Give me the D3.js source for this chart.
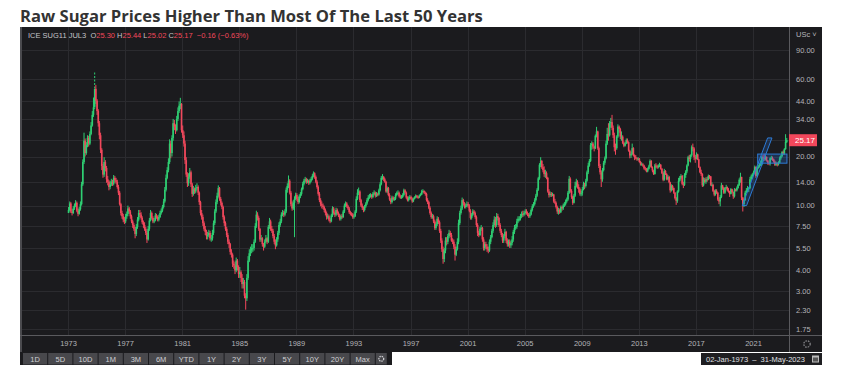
<!DOCTYPE html>
<html><head><meta charset="utf-8">
<script src="https://cdn.jsdelivr.net/npm/d3@7"></script>
<style>
body{margin:0;background:#fff;}
svg{display:block;}
</style>
</head><body>
<svg id="c" width="847" height="382"></svg>
<script>
// ---------------- DATA ----------------
const title = "Raw Sugar Prices Higher Than Most Of The Last 50 Years";
const startYear = 1973;
// monthly closes (US cents / lb), Jan 1973 .. May 2023
const closes = [
/*1973*/ 9.4, 10.3, 9.2, 9.0, 9.6, 10.0, 10.4, 9.3, 8.9, 9.5, 10.2, 13.5,
/*1974*/ 18.5, 25.0, 21.0, 23.5, 26.0, 24.0, 27.5, 31.0, 36.0, 40.0, 52.0, 44.0,
/*1975*/ 38, 32, 27, 22, 17.5, 15.5, 18.5, 17.0, 14.5, 14.0, 13.0, 13.5,
/*1976*/ 14.0, 13.6, 14.8, 14.3, 14.0, 13.0, 12.0, 10.2, 9.0, 8.6, 8.2, 8.0,
/*1977*/ 8.6, 8.9, 9.6, 9.2, 8.6, 8.0, 7.6, 7.2, 6.7, 7.4, 8.2, 9.0,
/*1978*/ 8.8, 8.4, 7.9, 7.6, 7.2, 6.8, 6.2, 7.2, 8.1, 9.0, 8.4, 8.0,
/*1979*/ 8.1, 8.7, 8.5, 8.2, 8.5, 9.0, 9.3, 9.8, 10.6, 12.5, 14.8, 16.5,
/*1980*/ 18.5, 24.0, 21.0, 26.0, 32.0, 30.5, 29.0, 34.0, 38.0, 41.0, 42.0, 29.0,
/*1981*/ 27.0, 24.0, 19.0, 15.5, 13.7, 15.0, 16.0, 13.5, 11.8, 12.6, 12.2, 12.8,
/*1982*/ 13.0, 12.0, 10.5, 9.0, 8.5, 7.8, 7.2, 6.9, 6.5, 6.6, 6.8, 6.3,
/*1983*/ 6.3, 6.8, 7.8, 9.2, 10.5, 11.5, 12.8, 11.0, 10.4, 9.8, 8.5, 7.8,
/*1984*/ 7.2, 6.6, 6.0, 5.8, 5.2, 5.0, 4.4, 4.3, 4.0, 4.6, 4.2, 3.8,
/*1985*/ 3.9, 3.6, 3.3, 3.4, 2.8, 2.7, 3.6, 4.6, 5.1, 5.3, 5.5, 5.5,
/*1986*/ 6.0, 7.5, 8.8, 8.4, 7.2, 6.2, 6.3, 5.8, 5.6, 6.0, 6.3, 6.0,
/*1987*/ 7.4, 8.0, 7.2, 7.0, 6.5, 6.0, 5.7, 6.2, 6.8, 7.6, 8.0, 8.8,
/*1988*/ 9.0, 8.8, 9.2, 12.5, 13.2, 14.2, 12.0, 10.2, 9.6, 10.4, 11.0, 11.6,
/*1989*/ 11.0, 10.5, 11.4, 11.8, 12.6, 13.6, 14.2, 14.5, 14.0, 14.2, 13.8, 14.2,
/*1990*/ 14.6, 15.2, 15.8, 15.0, 14.0, 13.0, 11.8, 10.8, 10.2, 10.0, 9.8, 9.4,
/*1991*/ 9.0, 8.5, 8.6, 8.2, 8.0, 8.7, 9.6, 9.0, 8.8, 9.4, 9.0, 8.7,
/*1992*/ 8.3, 8.6, 8.5, 9.2, 10.0, 10.3, 9.9, 9.6, 9.1, 8.9, 8.8, 8.5,
/*1993*/ 8.6, 9.2, 11.0, 12.0, 12.2, 10.8, 10.0, 9.7, 9.4, 9.9, 10.3, 10.8,
/*1994*/ 11.2, 11.4, 11.6, 11.3, 11.8, 12.0, 11.5, 11.8, 11.7, 12.4, 13.5, 14.8,
/*1995*/ 15.0, 14.5, 14.0, 12.2, 12.8, 11.6, 10.9, 10.5, 11.2, 10.9, 11.0, 11.6,
/*1996*/ 11.9, 12.0, 11.4, 11.2, 11.3, 11.6, 12.4, 12.0, 11.2, 10.8, 11.1, 11.3,
/*1997*/ 11.0, 10.6, 11.0, 11.2, 11.5, 11.3, 11.2, 11.5, 11.7, 12.2, 12.3, 12.0,
/*1998*/ 11.8, 10.8, 10.5, 9.7, 9.0, 8.5, 8.6, 8.0, 7.3, 7.7, 8.3, 7.9,
/*1999*/ 7.0, 6.1, 5.4, 4.7, 5.3, 6.1, 6.0, 6.5, 6.8, 6.6, 6.1, 6.0,
/*2000*/ 5.6, 5.0, 5.4, 6.0, 7.8, 9.0, 9.6, 10.8, 10.3, 9.8, 10.0, 10.2,
/*2001*/ 10.0, 9.3, 8.4, 8.8, 9.2, 9.0, 8.5, 7.6, 6.8, 6.6, 7.2, 7.3,
/*2002*/ 6.2, 5.5, 5.8, 5.6, 5.4, 5.3, 6.0, 6.4, 7.0, 7.6, 8.2, 7.6,
/*2003*/ 8.6, 8.4, 7.6, 7.0, 6.6, 6.1, 6.5, 6.9, 6.1, 5.8, 6.0, 5.7,
/*2004*/ 5.9, 6.2, 6.9, 7.3, 7.4, 8.0, 8.3, 8.3, 8.6, 8.9, 8.8, 9.0,
/*2005*/ 9.2, 9.0, 8.8, 8.6, 8.8, 9.4, 9.9, 10.2, 10.8, 11.5, 12.5, 14.7,
/*2006*/ 17.8, 18.8, 17.2, 16.5, 15.6, 15.8, 14.8, 12.2, 11.6, 11.8, 11.6, 11.7,
/*2007*/ 10.6, 10.4, 9.8, 9.2, 9.4, 9.1, 9.8, 9.6, 10.0, 10.2, 10.6, 10.9,
/*2008*/ 12.0, 14.6, 12.3, 11.3, 10.4, 11.5, 13.2, 14.0, 13.0, 12.6, 11.8, 11.9,
/*2009*/ 12.6, 13.4, 13.2, 14.2, 16.0, 17.6, 18.8, 23.5, 24.0, 23.0, 22.4, 26.8,
/*2010*/ 28.5, 22.5, 17.5, 16.0, 14.5, 16.5, 18.3, 19.5, 24.0, 27.5, 27.0, 32.0,
/*2011*/ 32.5, 30.0, 27.0, 22.8, 22.5, 26.5, 30.5, 29.5, 26.5, 26.5, 24.2, 23.3,
/*2012*/ 24.0, 25.2, 24.5, 21.7, 20.3, 20.7, 22.5, 20.3, 19.8, 19.5, 19.3, 19.4,
/*2013*/ 18.5, 17.9, 17.9, 17.6, 16.9, 16.8, 16.2, 16.8, 17.4, 18.8, 17.2, 16.4,
/*2014*/ 15.6, 17.6, 17.4, 17.2, 17.5, 17.8, 16.8, 15.8, 14.4, 16.3, 15.6, 14.5,
/*2015*/ 15.0, 13.9, 12.4, 13.2, 12.8, 12.0, 11.1, 10.7, 12.2, 14.2, 14.8, 15.2,
/*2016*/ 13.6, 13.4, 15.4, 16.2, 17.6, 19.8, 19.3, 20.3, 22.8, 22.4, 19.8, 19.4,
/*2017*/ 20.6, 19.2, 17.2, 16.0, 15.6, 13.3, 14.4, 14.0, 14.5, 14.4, 15.2, 15.1,
/*2018*/ 13.4, 13.4, 12.3, 11.7, 12.3, 12.0, 10.9, 10.6, 11.3, 13.3, 12.8, 12.0,
/*2019*/ 12.8, 13.0, 12.4, 12.3, 11.8, 12.6, 12.1, 11.4, 12.5, 12.4, 12.8, 13.4,
/*2020*/ 14.4, 15.0, 11.2, 10.2, 10.8, 12.0, 12.4, 12.8, 12.8, 14.5, 15.1, 15.5,
/*2021*/ 16.0, 17.2, 15.2, 17.0, 17.4, 17.9, 17.9, 19.8, 19.6, 19.3, 19.9, 18.9,
/*2022*/ 18.3, 18.1, 19.5, 19.6, 19.2, 18.6, 17.8, 18.2, 17.9, 18.3, 19.5, 20.1,
/*2023*/ 21.3, 20.9, 22.2, 24.6, 25.17
];
// monthly highs
const highs = [
/*1973*/ 9.8, 10.6, 10.5, 9.5, 9.9, 10.3, 10.8, 10.6, 9.6, 9.8, 10.6, 14.0,
/*1974*/ 19.2, 28.0, 25.8, 24.5, 27.0, 26.8, 28.5, 32.5, 38.0, 46.0, 65.5, 55.0,
/*1975*/ 45.0, 39.0, 33.0, 28.0, 22.5, 18.0, 19.8, 19.0, 17.5, 15.2, 14.3, 14.2,
/*1976*/ 14.6, 14.4, 15.4, 15.2, 14.8, 14.4, 13.4, 12.3, 10.4, 9.3, 8.9, 8.5,
/*1977*/ 8.9, 9.2, 10.0, 9.8, 9.4, 8.8, 8.2, 7.8, 7.4, 7.7, 8.5, 9.4,
/*1978*/ 9.4, 9.1, 8.6, 8.1, 7.9, 7.4, 7.0, 7.5, 8.4, 9.4, 9.2, 8.6,
/*1979*/ 8.4, 9.0, 8.9, 8.7, 8.8, 9.3, 9.6, 10.1, 11.0, 13.0, 15.5, 17.2,
/*1980*/ 19.5, 25.5, 25.0, 27.0, 34.0, 33.5, 31.5, 35.5, 40.0, 43.5, 45.8, 42.5,
/*1981*/ 31.0, 28.5, 25.0, 19.8, 16.0, 15.8, 17.0, 16.4, 13.8, 13.2, 12.9, 13.4,
/*1982*/ 13.7, 13.3, 12.2, 10.7, 9.4, 8.8, 8.0, 7.5, 7.1, 6.9, 7.1, 7.0,
/*1983*/ 6.6, 7.1, 8.1, 9.5, 10.9, 12.0, 13.3, 13.0, 11.3, 10.6, 10.0, 8.7,
/*1984*/ 8.0, 7.4, 6.8, 6.2, 5.9, 5.4, 5.1, 4.6, 4.5, 4.8, 4.7, 4.3,
/*1985*/ 4.2, 4.0, 3.8, 3.6, 3.5, 2.9, 3.8, 4.9, 5.4, 5.6, 5.8, 5.8,
/*1986*/ 6.2, 7.8, 9.3, 9.1, 8.6, 7.3, 6.6, 6.4, 5.9, 6.2, 6.6, 6.4,
/*1987*/ 7.6, 8.4, 8.2, 7.5, 7.2, 6.7, 6.2, 6.4, 7.0, 7.9, 8.3, 9.1,
/*1988*/ 9.4, 9.3, 9.5, 12.9, 13.7, 15.3, 14.5, 12.3, 10.6, 10.8, 11.4, 12.0,
/*1989*/ 11.9, 11.3, 11.7, 12.1, 12.9, 14.0, 14.6, 15.0, 14.8, 14.6, 14.4, 14.6,
/*1990*/ 15.0, 15.6, 16.2, 16.0, 15.3, 14.3, 13.3, 12.1, 11.1, 10.6, 10.3, 10.0,
/*1991*/ 9.6, 9.2, 8.9, 8.8, 8.4, 8.9, 9.9, 9.8, 9.2, 9.7, 9.6, 9.2,
/*1992*/ 8.9, 8.8, 8.9, 9.4, 10.3, 10.6, 10.5, 10.1, 9.8, 9.3, 9.1, 9.0,
/*1993*/ 8.9, 9.4, 11.4, 12.6, 12.9, 12.4, 11.0, 10.3, 9.9, 10.1, 10.5, 11.1,
/*1994*/ 11.6, 11.8, 11.9, 11.8, 12.1, 12.4, 12.2, 12.1, 12.0, 12.7, 13.9, 15.2,
/*1995*/ 15.6, 15.2, 14.8, 14.2, 13.1, 13.0, 11.9, 11.1, 11.5, 11.4, 11.3, 11.9,
/*1996*/ 12.2, 12.4, 12.2, 11.7, 11.6, 11.9, 12.7, 12.6, 12.2, 11.4, 11.4, 11.6,
/*1997*/ 11.5, 11.2, 11.2, 11.4, 11.7, 11.6, 11.5, 11.7, 11.9, 12.5, 12.6, 12.4,
/*1998*/ 12.2, 12.0, 11.1, 10.7, 9.9, 9.2, 8.9, 8.8, 8.2, 7.9, 8.6, 8.5,
/*1999*/ 8.1, 7.2, 6.3, 5.6, 5.5, 6.4, 6.4, 6.7, 7.1, 7.0, 6.8, 6.3,
/*2000*/ 6.2, 5.8, 5.6, 6.3, 8.2, 9.3, 10.0, 11.2, 11.0, 10.5, 10.3, 10.6,
/*2001*/ 10.5, 10.2, 9.5, 9.0, 9.5, 9.4, 9.2, 8.7, 7.8, 7.0, 7.4, 7.6,
/*2002*/ 7.4, 6.4, 6.0, 6.0, 5.8, 5.6, 6.2, 6.6, 7.2, 7.9, 8.6, 8.5,
/*2003*/ 9.0, 8.9, 8.5, 7.8, 7.2, 6.8, 6.7, 7.2, 7.0, 6.3, 6.2, 6.2,
/*2004*/ 6.1, 6.5, 7.1, 7.6, 7.7, 8.3, 8.6, 8.6, 8.9, 9.2, 9.3, 9.3,
/*2005*/ 9.5, 9.5, 9.2, 9.0, 9.1, 9.6, 10.2, 10.5, 11.1, 11.8, 12.8, 15.0,
/*2006*/ 18.2, 19.8, 19.0, 18.0, 17.4, 16.6, 16.2, 15.0, 12.6, 12.2, 12.1, 12.0,
/*2007*/ 11.8, 11.0, 10.6, 10.0, 9.7, 9.6, 10.0, 10.0, 10.3, 10.5, 10.9, 11.2,
/*2008*/ 12.3, 15.2, 14.9, 12.6, 11.5, 11.8, 14.0, 14.6, 14.3, 13.5, 12.9, 12.3,
/*2009*/ 13.0, 14.0, 13.8, 14.6, 16.4, 18.3, 19.3, 24.2, 24.8, 24.5, 23.3, 27.3,
/*2010*/ 30.4, 28.8, 23.0, 18.0, 16.4, 17.0, 18.8, 20.0, 25.0, 30.0, 32.0, 33.0,
/*2011*/ 34.5, 36.0, 31.0, 28.0, 24.0, 27.0, 31.5, 31.0, 30.0, 28.5, 27.0, 24.8,
/*2012*/ 24.5, 25.8, 25.8, 24.8, 22.0, 21.4, 24.0, 22.8, 20.6, 20.4, 19.8, 19.8,
/*2013*/ 19.6, 18.8, 18.4, 18.2, 17.8, 17.3, 17.0, 17.1, 17.8, 19.2, 19.0, 17.4,
/*2014*/ 16.6, 18.0, 18.2, 17.8, 17.9, 18.3, 18.0, 17.0, 16.0, 16.8, 16.5, 15.8,
/*2015*/ 15.4, 15.2, 14.0, 13.5, 13.4, 12.9, 12.1, 11.3, 12.4, 14.8, 15.2, 15.6,
/*2016*/ 15.4, 14.0, 15.8, 16.5, 17.9, 20.2, 20.5, 20.6, 23.4, 24.0, 22.8, 20.4,
/*2017*/ 21.2, 20.8, 19.4, 17.4, 16.6, 15.8, 14.9, 14.8, 14.9, 15.0, 15.5, 15.4,
/*2018*/ 15.2, 13.9, 13.6, 12.5, 12.6, 12.6, 12.1, 11.2, 11.6, 13.8, 13.4, 13.0,
/*2019*/ 13.0, 13.4, 13.1, 12.8, 12.3, 12.8, 12.7, 12.2, 12.8, 12.7, 13.1, 13.6,
/*2020*/ 14.7, 15.9, 15.0, 11.3, 11.0, 12.3, 12.8, 13.2, 13.0, 15.0, 15.5, 15.8,
/*2021*/ 16.4, 17.6, 17.4, 17.3, 17.8, 18.2, 18.9, 20.2, 20.4, 20.8, 20.3, 20.0,
/*2022*/ 19.0, 18.6, 19.8, 20.2, 20.0, 19.4, 18.9, 18.6, 18.4, 18.7, 20.0, 20.4,
/*2023*/ 21.6, 21.8, 22.5, 27.4, 26.0
];
// monthly lows
const lows = [
/*1973*/ 9.0, 9.2, 9.0, 8.7, 8.9, 9.4, 9.8, 9.1, 8.6, 8.8, 9.3, 10.0,
/*1974*/ 13.2, 18.0, 20.0, 20.5, 22.8, 23.0, 23.5, 27.0, 30.5, 35.0, 39.0, 42.0,
/*1975*/ 36.0, 30.5, 25.5, 21.0, 16.5, 14.8, 15.0, 16.2, 13.8, 13.3, 12.4, 12.6,
/*1976*/ 13.2, 13.2, 13.3, 13.8, 13.6, 12.7, 11.6, 10.0, 8.7, 8.3, 7.9, 7.7,
/*1977*/ 7.8, 8.3, 8.6, 8.9, 8.3, 7.8, 7.3, 7.0, 6.3, 6.5, 7.2, 8.0,
/*1978*/ 8.5, 8.2, 7.7, 7.3, 7.0, 6.6, 5.9, 6.1, 7.0, 8.0, 8.2, 7.8,
/*1979*/ 7.8, 8.0, 8.3, 8.0, 8.0, 8.4, 8.8, 9.1, 9.6, 10.4, 12.2, 14.5,
/*1980*/ 16.0, 18.0, 19.5, 20.0, 25.0, 29.0, 27.5, 28.5, 33.0, 37.0, 39.0, 28.0,
/*1981*/ 26.0, 23.0, 18.0, 15.0, 13.0, 13.2, 14.6, 13.0, 11.3, 11.5, 11.8, 11.9,
/*1982*/ 12.5, 11.6, 10.1, 8.7, 8.2, 7.5, 7.0, 6.6, 6.2, 6.2, 6.4, 6.1,
/*1983*/ 6.0, 6.1, 6.6, 7.6, 9.0, 10.2, 11.2, 10.7, 10.0, 9.5, 8.2, 7.5,
/*1984*/ 7.0, 6.4, 5.8, 5.5, 5.0, 4.8, 4.2, 4.1, 3.8, 3.9, 4.0, 3.6,
/*1985*/ 3.6, 3.4, 3.1, 3.1, 2.7, 2.3, 2.6, 3.5, 4.5, 4.9, 5.1, 5.2,
/*1986*/ 5.3, 5.9, 7.3, 8.1, 7.0, 6.0, 6.0, 5.6, 5.3, 5.5, 5.9, 5.8,
/*1987*/ 5.9, 7.2, 7.0, 6.8, 6.3, 5.8, 5.4, 5.6, 6.0, 6.6, 7.4, 7.8,
/*1988*/ 8.6, 8.5, 8.6, 9.0, 12.0, 12.8, 11.7, 9.9, 9.3, 9.4, 6.4, 10.8,
/*1989*/ 10.7, 10.2, 10.3, 11.1, 11.5, 12.4, 13.3, 13.8, 13.6, 13.7, 13.4, 13.5,
/*1990*/ 13.9, 14.3, 14.9, 14.6, 13.7, 12.7, 11.5, 10.5, 9.9, 9.6, 9.5, 9.1,
/*1991*/ 8.7, 8.2, 8.3, 8.0, 7.8, 7.9, 8.5, 8.8, 8.5, 8.6, 8.8, 8.5,
/*1992*/ 8.1, 8.1, 8.3, 8.4, 9.0, 9.8, 9.7, 9.4, 8.9, 8.7, 8.6, 8.3,
/*1993*/ 8.3, 8.5, 9.0, 10.8, 11.6, 10.5, 9.8, 9.4, 9.1, 9.2, 9.7, 10.1,
/*1994*/ 10.6, 11.0, 11.2, 11.0, 11.1, 11.6, 11.2, 11.3, 11.4, 11.5, 12.2, 13.3,
/*1995*/ 14.4, 14.1, 13.8, 12.0, 11.9, 11.4, 10.7, 10.2, 10.3, 10.7, 10.7, 10.8,
/*1996*/ 11.4, 11.7, 11.2, 11.0, 11.0, 11.1, 11.4, 11.8, 11.0, 10.6, 10.6, 10.9,
/*1997*/ 10.8, 10.4, 10.5, 10.9, 11.1, 11.1, 11.0, 11.1, 11.4, 11.6, 12.0, 11.8,
/*1998*/ 11.5, 10.6, 10.2, 9.5, 8.8, 8.3, 8.3, 7.8, 7.1, 7.1, 7.5, 7.7,
/*1999*/ 6.8, 5.9, 5.2, 4.4, 4.5, 5.1, 5.7, 5.8, 6.3, 6.4, 6.0, 5.8,
/*2000*/ 5.4, 4.6, 4.9, 5.3, 5.8, 7.6, 8.8, 9.4, 10.0, 9.6, 9.6, 9.8,
/*2001*/ 9.7, 9.1, 8.2, 8.2, 8.6, 8.8, 8.3, 7.4, 6.5, 6.4, 6.5, 7.0,
/*2002*/ 6.0, 5.3, 5.3, 5.4, 5.2, 5.1, 5.2, 5.8, 6.3, 6.8, 7.4, 7.3,
/*2003*/ 7.4, 8.1, 7.4, 6.8, 6.4, 5.9, 5.9, 6.3, 5.9, 5.6, 5.6, 5.5,
/*2004*/ 5.5, 5.7, 6.0, 6.7, 7.1, 7.2, 7.8, 8.0, 8.1, 8.4, 8.5, 8.6,
/*2005*/ 8.8, 8.8, 8.6, 8.4, 8.4, 8.7, 9.2, 9.7, 10.0, 10.6, 11.3, 12.3,
/*2006*/ 14.4, 17.2, 16.8, 16.0, 15.0, 14.8, 14.5, 12.0, 11.2, 11.3, 11.3, 11.4,
/*2007*/ 10.4, 10.2, 9.6, 8.9, 8.8, 8.9, 9.0, 9.3, 9.4, 9.8, 10.0, 10.4,
/*2008*/ 10.7, 11.8, 12.0, 11.0, 10.1, 10.3, 11.3, 12.9, 12.7, 12.0, 11.5, 11.4,
/*2009*/ 11.5, 12.4, 12.6, 12.9, 14.0, 15.6, 17.3, 18.5, 22.0, 22.3, 21.5, 22.2,
/*2010*/ 26.2, 22.0, 17.0, 15.5, 13.0, 14.0, 16.2, 17.8, 19.2, 23.5, 25.0, 26.5,
/*2011*/ 30.0, 29.0, 26.0, 21.5, 20.5, 22.0, 26.0, 28.0, 25.5, 25.0, 23.8, 22.8,
/*2012*/ 23.0, 23.8, 24.0, 21.4, 19.5, 19.6, 20.4, 20.0, 19.0, 19.2, 18.8, 18.9,
/*2013*/ 18.3, 17.6, 17.6, 17.3, 16.6, 16.4, 16.0, 16.0, 16.6, 17.2, 17.0, 16.0,
/*2014*/ 15.4, 15.5, 17.0, 16.8, 16.9, 17.2, 16.6, 15.6, 14.1, 14.2, 15.4, 14.3,
/*2015*/ 14.3, 13.7, 12.0, 12.2, 12.4, 11.8, 10.9, 10.1, 10.4, 12.0, 14.0, 14.5,
/*2016*/ 13.3, 12.8, 13.2, 14.8, 15.8, 17.4, 18.6, 18.4, 19.9, 21.5, 19.0, 18.3,
/*2017*/ 19.2, 19.0, 17.0, 15.8, 15.2, 13.0, 13.1, 13.7, 13.6, 14.0, 14.3, 14.6,
/*2018*/ 13.2, 13.1, 12.1, 11.4, 11.5, 11.8, 10.7, 10.2, 9.9, 11.1, 12.5, 11.8,
/*2019*/ 11.8, 12.6, 12.2, 12.0, 11.3, 11.7, 11.9, 11.0, 11.2, 12.2, 12.2, 12.7,
/*2020*/ 13.2, 13.8, 10.8, 9.2, 9.8, 10.7, 11.9, 12.2, 12.1, 12.6, 14.3, 14.7,
/*2021*/ 15.2, 15.8, 14.8, 15.0, 16.8, 17.1, 17.5, 17.6, 19.0, 18.8, 18.9, 18.6,
/*2022*/ 17.8, 17.7, 17.6, 19.0, 18.8, 18.3, 17.5, 17.5, 17.4, 17.6, 18.2, 19.1,
/*2023*/ 19.8, 20.5, 20.5, 22.0, 24.2
];

const yTicks = [1.75, 2.3, 3, 4, 5.5, 7.5, 10, 14, 20, 34, 44, 60, 90];
const xTickYears = [1973, 1977, 1981, 1985, 1989, 1993, 1997, 2001, 2005, 2009, 2013, 2017, 2021];
const lastPrice = 25.17;
const quoteNames  = ["ICE SUG11 JUL3  O", " H", " L", " C"];
const quoteValues = ["25.30", "25.44", "25.02", "25.17"];
const quoteChange = "  \u22120.16 (\u22120.63%)";
const unitLabel = "USc \u02c5";
const rangeButtons = ["1D","5D","10D","1M","3M","6M","YTD","1Y","2Y","3Y","5Y","10Y","20Y","Max"];
const dateRange = "02-Jan-1973  \u2013  31-May-2023";
// drawn annotations (date, price)
const channelDates  = ["2020-04-01", "2022-01-10", "2022-05-01", "2020-07-20"];
const channelPrices = [10.0, 26.0, 26.0, 10.0];
const boxDates  = ["2021-05-01", "2023-05-20"];
const boxPrices = [18.2, 20.7];

// ---------------- CHART ----------------
const svg = d3.select("#c");
const C = {bg:"#1b1b1e", grid:"#2b2b2f", axis:"#5a5a5e", text:"#b4b4b8", up:"#2fcf73", down:"#f2485c"};
const P = {l:20, r:822, t:27, b:352, plotR:789, plotB:335};
const FONT = "'Liberation Sans', Arial, sans-serif";

// title
const tt = svg.append("text").attr("x", 20).attr("y", 22)
  .attr("font-family", "'Open Sans', sans-serif").attr("font-weight", 700)
  .attr("font-size", 17).attr("fill", "#333").text(title);
const tw = tt.node().getComputedTextLength();
tt.attr("font-size", 17 * 463 / tw);

// panel
svg.append("rect").attr("x", P.l).attr("y", P.t).attr("width", P.r - P.l).attr("height", P.b - P.t).attr("fill", C.bg);
svg.append("rect").attr("x", P.l).attr("y", P.t).attr("width", 2).attr("height", P.b - P.t).attr("fill", "#4a4a4e");

const parse = d3.utcParse("%Y-%m-%d");
const x = d3.scaleUtc().domain([new Date(Date.UTC(1973,0,1)), new Date(Date.UTC(2021,0,1))]).range([68, 753]);
const y = d3.scaleLog().domain([1.75, 90]).range([329, 50]);

// grid
const grid = svg.append("g");
grid.selectAll(".hg").data(yTicks.concat([lastPrice])).join("line")
  .attr("x1", 22).attr("x2", P.plotR).attr("y1", d => Math.round(y(d)) + 0.5).attr("y2", d => Math.round(y(d)) + 0.5)
  .attr("stroke", C.grid).attr("stroke-width", 1);
grid.selectAll(".vg").data(xTickYears).join("line")
  .attr("x1", d => Math.round(x(new Date(Date.UTC(d,0,1)))) + 0.5).attr("x2", d => Math.round(x(new Date(Date.UTC(d,0,1)))) + 0.5)
  .attr("y1", P.t).attr("y2", P.plotB).attr("stroke", C.grid).attr("stroke-width", 1);

// candles
const bars = closes.map((c, i) => {
  const yr = startYear + Math.floor(i / 12), m = i % 12;
  const open = i === 0 ? lows[0] : closes[i - 1];
  return {date: new Date(Date.UTC(yr, m, 15)), open, close: c, high: highs[i], low: lows[i]};
});
const col = d => d.close >= d.open ? C.up : C.down;
const cg = svg.append("g");
cg.selectAll("line").data(bars).join("line")
  .attr("x1", d => x(d.date)).attr("x2", d => x(d.date))
  .attr("y1", d => y(d.high)).attr("y2", d => y(d.low))
  .attr("stroke", col).attr("stroke-width", 1)
  .attr("stroke-dasharray", d => d.high > 55 ? "2,1.5" : null);
cg.selectAll("rect").data(bars).join("rect")
  .attr("x", d => x(d.date) - 0.8).attr("width", 1.6)
  .attr("y", d => y(Math.max(d.open, d.close)))
  .attr("height", d => Math.max(1, y(Math.min(d.open, d.close)) - y(Math.max(d.open, d.close))))
  .attr("fill", col);

// channel annotation
const chPts = channelDates.map((d, i) => [x(parse(d)), y(channelPrices[i])]);
svg.append("path").attr("d", d3.line()(chPts) + "Z")
  .attr("fill", "rgba(40,120,230,0.22)").attr("stroke", "#2d7bd6").attr("stroke-width", 1);
svg.append("rect")
  .attr("x", x(parse(boxDates[0]))).attr("width", x(parse(boxDates[1])) - x(parse(boxDates[0])))
  .attr("y", y(boxPrices[1])).attr("height", y(boxPrices[0]) - y(boxPrices[1]))
  .attr("fill", "rgba(40,120,230,0.25)").attr("stroke", "#2d7bd6").attr("stroke-width", 1);

// axes lines
svg.append("line").attr("x1", P.l).attr("x2", P.r).attr("y1", P.plotB + 0.5).attr("y2", P.plotB + 0.5).attr("stroke", C.axis);
svg.append("line").attr("x1", P.plotR + 0.5).attr("x2", P.plotR + 0.5).attr("y1", P.t).attr("y2", P.b).attr("stroke", C.axis);

// y axis
const ya = svg.append("g").attr("transform", `translate(${P.plotR},0)`)
  .call(d3.axisRight(y).tickValues(yTicks).tickFormat(d3.format(".2f")).tickSize(0).tickPadding(7));
ya.select(".domain").remove();
ya.selectAll("text").attr("fill", C.text).attr("font-size", 7.5).attr("font-family", FONT);
svg.append("text").attr("x", 796).attr("y", 37).attr("fill", C.text).attr("font-size", 7.5)
  .attr("font-family", FONT).text(unitLabel);

// last price tag
svg.append("rect").attr("x", P.plotR).attr("y", y(lastPrice) - 6).attr("width", 28).attr("height", 12).attr("fill", "#f2475b");
svg.append("text").attr("x", P.plotR + 6).attr("y", y(lastPrice) + 3).attr("fill", "#fff").attr("font-size", 8)
  .attr("font-family", FONT).text(d3.format(".2f")(lastPrice));

// x axis
const xa = svg.append("g").attr("transform", `translate(0,${P.plotB})`)
  .call(d3.axisBottom(x).tickValues(xTickYears.map(v => new Date(Date.UTC(v,0,1)))).tickFormat(d3.utcFormat("%Y")).tickSize(0).tickPadding(6));
xa.select(".domain").remove();
xa.selectAll("text").attr("fill", C.text).attr("font-size", 7.5).attr("font-family", FONT);

// gear icon in corner
svg.append("circle").attr("cx", 807).attr("cy", 344).attr("r", 3.2).attr("fill", "none")
  .attr("stroke", "#8a8a8e").attr("stroke-width", 1.2).attr("stroke-dasharray", "1.6,1");

// quote header
const q = svg.append("text").attr("x", 28).attr("y", 38).attr("font-size", 7.5)
  .attr("font-family", FONT).attr("xml:space", "preserve");
quoteNames.forEach((n, i) => {
  q.append("tspan").attr("fill", "#c4c4c8").text(n);
  q.append("tspan").attr("fill", "#f2485c").text(quoteValues[i]);
});
q.append("tspan").attr("fill", "#f2485c").text(quoteChange);

// range buttons
svg.append("rect").attr("x", P.l).attr("y", P.b).attr("width", 372).attr("height", 13).attr("fill", C.bg);
const bw = 25.2;
const bg = svg.append("g");
const btns = bg.selectAll("g").data(rangeButtons).join("g")
  .attr("transform", (d, i) => `translate(${23 + i * bw},${P.b + 1})`);
btns.append("rect").attr("width", bw - 1).attr("height", 11.5).attr("fill", "#48484c");
btns.append("text").attr("x", (bw - 1) / 2).attr("y", 8.5).attr("text-anchor", "middle")
  .attr("fill", "#d0d0d4").attr("font-size", 7.5).attr("font-family", FONT).text(d => d);
const gx = 23 + rangeButtons.length * bw;
bg.append("rect").attr("x", gx).attr("y", P.b + 1).attr("width", 11).attr("height", 11.5).attr("fill", "#48484c");
bg.append("circle").attr("cx", gx + 5.5).attr("cy", P.b + 6.8).attr("r", 2.4).attr("fill", "none")
  .attr("stroke", "#d0d0d4").attr("stroke-width", 1.3).attr("stroke-dasharray", "1.3,0.8");

// date range box
svg.append("rect").attr("x", 701).attr("y", P.b + 1).attr("width", 121).attr("height", 12).attr("fill", "#1e1e21");
svg.append("text").attr("x", 706).attr("y", P.b + 10).attr("fill", "#e0e0e4").attr("font-size", 7.5)
  .attr("xml:space", "preserve").attr("font-family", FONT).text(dateRange);
svg.append("rect").attr("x", 812).attr("y", P.b + 3.5).attr("width", 7).attr("height", 7).attr("fill", "#bbb");
svg.append("rect").attr("x", 813).attr("y", P.b + 5.5).attr("width", 5).attr("height", 4).attr("fill", "#555");
</script>
</body></html>
